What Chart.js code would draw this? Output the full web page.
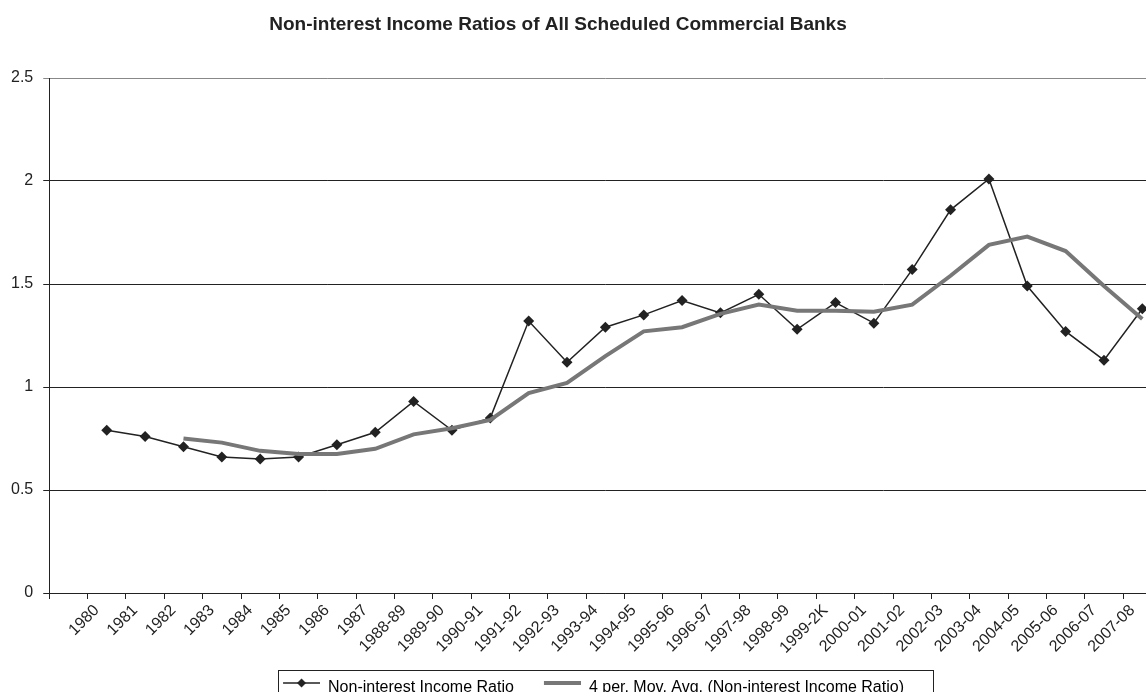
<!DOCTYPE html>
<html>
<head>
<meta charset="utf-8">
<title>Non-interest Income Ratios</title>
<script src="https://cdn.jsdelivr.net/npm/chart.js@4.4.1/dist/chart.umd.min.js"></script>
<style>
  html, body { margin: 0; padding: 0; background: #fff; overflow: hidden; }
  #wrap { width: 1167px; height: 706px; position: relative; }
</style>
</head>
<body>
<div id="wrap"><canvas id="ratioChart"></canvas></div>
<script>
const chartTitle = "Non-interest Income Ratios of All Scheduled Commercial Banks";

const years = [
  "1980", "1981", "1982", "1983", "1984", "1985", "1986", "1987",
  "1988-89", "1989-90", "1990-91", "1991-92", "1992-93", "1993-94",
  "1994-95", "1995-96", "1996-97", "1997-98", "1998-99", "1999-2K",
  "2000-01", "2001-02", "2002-03", "2003-04", "2004-05", "2005-06",
  "2006-07", "2007-08"
];

// non-interest income as % of total assets
const ratio = [
  0.79, 0.76, 0.71, 0.66, 0.65, 0.66, 0.72, 0.78,
  0.93, 0.79, 0.85, 1.32, 1.12, 1.29,
  1.35, 1.42, 1.36, 1.45, 1.28, 1.41,
  1.31, 1.57, 1.86, 2.01, 1.49, 1.27,
  1.13, 1.38
];

// 4 period moving average trendline
const movAvg = [
  null, null, 0.75, 0.73, 0.69, 0.675, 0.675, 0.70,
  0.77, 0.80, 0.84, 0.97, 1.02, 1.15,
  1.27, 1.29, 1.355, 1.40, 1.37, 1.37,
  1.365, 1.40, 1.54, 1.69, 1.73, 1.66,
  1.49, 1.33
];

const yMin = 0;
const yMax = 2.5;
const yStep = 0.5;

const seriesNames = [
  "Non-interest Income Ratio",
  "4 per. Mov. Avg. (Non-interest Income Ratio)"
];

Chart.defaults.font.family = "'Liberation Sans', Arial, Helvetica, sans-serif";
Chart.defaults.color = "#222";

// small line samples used as legend symbols
function legendMarker(color, width, diamond) {
  const c = document.createElement("canvas");
  c.width = 57;
  c.height = 20;
  const g = c.getContext("2d");
  g.strokeStyle = color;
  g.lineWidth = width;
  g.beginPath();
  g.moveTo(20, 5);
  g.lineTo(57, 5);
  g.stroke();
  if (diamond) {
    g.fillStyle = color;
    g.beginPath();
    g.moveTo(38.5, 0.5);
    g.lineTo(43, 5);
    g.lineTo(38.5, 9.5);
    g.lineTo(34, 5);
    g.closePath();
    g.fill();
  }
  return c;
}

const titlePlugin = {
  id: "titlePlugin",
  afterDraw(chart) {
    const ctx = chart.ctx;
    ctx.save();
    ctx.font = "bold 19px 'Liberation Sans', Arial, sans-serif";
    ctx.fillStyle = "#222";
    ctx.textAlign = "center";
    ctx.textBaseline = "middle";
    ctx.fillText(chartTitle, 558, 25);
    ctx.restore();
  }
};

// frame round the legend entries
const legendFrame = {
  id: "legendFrame",
  afterDraw(chart) {
    const boxes = chart.legend && chart.legend.legendHitBoxes;
    if (!boxes || !boxes.length) return;
    const first = boxes[0];
    const last = boxes[boxes.length - 1];
    const left = Math.round(first.left + 15) + 0.5;
    const right = Math.round(last.left + last.width + 29) + 0.5;
    const top = Math.round(first.top + first.height / 2 - 18) + 0.5;
    const ctx = chart.ctx;
    ctx.save();
    ctx.strokeStyle = "#222";
    ctx.lineWidth = 1;
    ctx.strokeRect(left, top, right - left, 44);
    ctx.restore();
  }
};

const ctx = document.getElementById("ratioChart").getContext("2d");

new Chart(ctx, {
  type: "line",
  data: {
    // leading blank slot leaves an empty band before 1980
    labels: [""].concat(years),
    datasets: [
      {
        label: seriesNames[0],
        data: [null].concat(ratio),
        borderColor: "#222",
        backgroundColor: "#222",
        borderWidth: 1.5,
        pointStyle: "rectRot",
        pointRadius: 5.5,
        pointBorderWidth: 0,
        tension: 0,
        order: 1
      },
      {
        label: seriesNames[1],
        data: [null].concat(movAvg),
        borderColor: "#777",
        borderWidth: 4,
        pointRadius: 0,
        tension: 0,
        order: 0
      }
    ]
  },
  options: {
    responsive: true,
    maintainAspectRatio: false,
    animation: false,
    devicePixelRatio: 1,
    layout: {
      padding: { top: 78, left: 1, right: 1, bottom: 0 }
    },
    plugins: {
      title: { display: false },
      tooltip: { enabled: false },
      legend: {
        position: "bottom",
        fullSize: true,
        labels: {
          usePointStyle: true,
          pointStyleWidth: 57,
          boxHeight: 16,
          padding: 10,
          color: "#222",
          font: { size: 16 },
          generateLabels: () => [
            { text: seriesNames[0], pointStyle: legendMarker("#222", 1.5, true), datasetIndex: 0, lineWidth: 0, hidden: false },
            { text: seriesNames[1], pointStyle: legendMarker("#777", 4, false), datasetIndex: 1, lineWidth: 0, hidden: false }
          ]
        }
      }
    },
    scales: {
      x: {
        type: "category",
        offset: true,
        grid: {
          offset: true,
          drawOnChartArea: false,
          drawTicks: true,
          tickLength: 6,
          color: "#222"
        },
        border: { color: "#222", width: 1 },
        ticks: {
          autoSkip: false,
          maxRotation: 45,
          minRotation: 45,
          padding: 2,
          labelOffset: -10,
          color: "#222",
          font: { size: 16 }
        },
        afterFit(scale) {
          scale.height = 77;
        }
      },
      y: {
        min: yMin,
        max: yMax,
        ticks: {
          stepSize: yStep,
          padding: 10,
          color: "#222",
          font: { size: 16 },
          callback: (v) => String(v)
        },
        grid: {
          tickLength: 6,
          color: (c) => (c.tick && c.tick.value === yMax ? "#888" : "#222")
        },
        border: { color: "#222", width: 1 }
      }
    }
  },
  plugins: [titlePlugin, legendFrame]
});
</script>
</body>
</html>
